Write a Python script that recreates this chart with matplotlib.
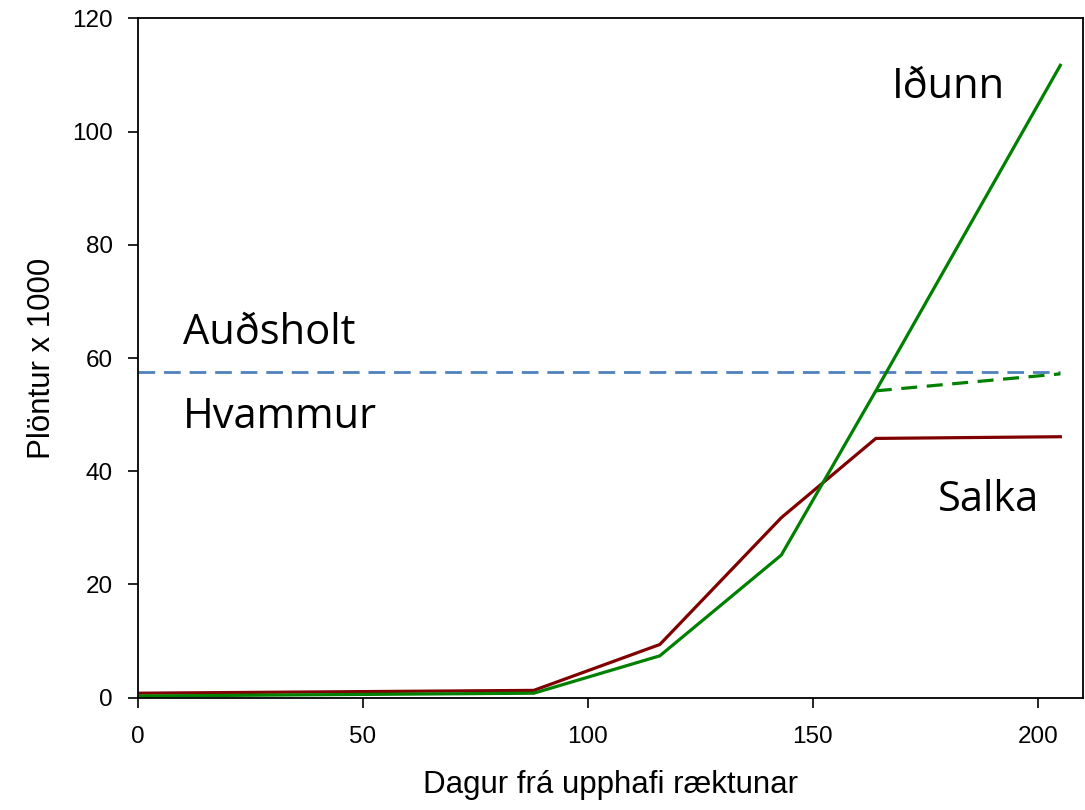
import matplotlib
matplotlib.use("Agg")
import matplotlib.pyplot as plt

# Days from start of cultivation
days = [0, 88, 116, 143, 164, 205]

# Plants x 1000
idunn = [0.3, 0.8, 7.4, 25.2, 54.2, 111.7]
salka = [0.8, 1.3, 9.4, 31.8, 45.8, 46.1]
idunn_dash_days = [164, 205]
idunn_dash = [54.2, 57.2]
ref_days = [0, 205]
ref_level = [57.5, 57.5]

plt.rcParams['font.family'] = ['Liberation Sans', 'DejaVu Sans']

fig = plt.figure(figsize=(10.85, 8.1), dpi=100)
ax = fig.add_axes([0.127, 0.1386, 0.871, 0.8388])

# Reference level (Auðsholt / Hvammur)
ax.plot(ref_days, ref_level, color='#4f81bd', lw=2, dashes=(6, 3.2))

ax.plot(days, salka, color='#800000', lw=2.3)
ax.plot(days, idunn, color='#008000', lw=2.3)
ax.plot(idunn_dash_days, idunn_dash, color='#008000', lw=2.3, dashes=(5, 3))

ax.set_xlim(0, 210)
ax.set_ylim(0, 120)
ax.set_xticks([0, 50, 100, 150, 200])
ax.set_yticks([0, 20, 40, 60, 80, 100, 120])
ax.tick_params(axis='both', direction='out', length=7, width=1.2, labelsize=17.5)
ax.tick_params(axis='x', pad=13)
ax.tick_params(axis='y', pad=11)
for s in ax.spines.values():
    s.set_linewidth(1.3)

ax.set_xlabel('Dagur frá upphafi ræktunar', fontsize=22.5, labelpad=16)
ax.set_ylabel('Plöntur x 1000', fontsize=22.5, labelpad=11)

# Series labels
lab = dict(fontsize=30, family=['Open Sans', 'DejaVu Sans'], color='black')
ax.text(167.6, 106, 'Iðunn', **lab)
ax.text(10, 62.4, 'Auðsholt', **lab)
ax.text(10, 47.7, 'Hvammur', **lab)
ax.text(177.8, 32.9, 'Salka', **lab)

plt.savefig('out.png', dpi=100)
